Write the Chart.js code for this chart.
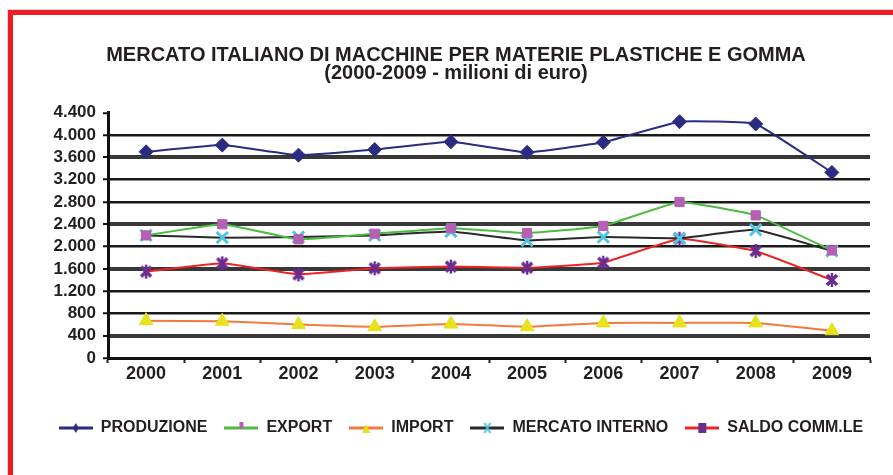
<!DOCTYPE html>
<html>
<head>
<meta charset="utf-8">
<script src="https://cdn.jsdelivr.net/npm/chart.js@4.4.1/dist/chart.umd.min.js"></script>
<style>
  html, body { margin:0; padding:0; background:#fff; }
  #wrap { position:relative; width:893px; height:475px; overflow:hidden; }
  #frame { position:absolute; left:8px; top:10px; width:1000px; height:600px;
           border-left:5px solid #ee1c25; border-top:5px solid #ee1c25;
           box-shadow:-1px -1px 0 #d8d8d8; }
  #chartBox { position:absolute; left:0; top:0; width:893px; height:475px; }
</style>
</head>
<body>
<div id="wrap">
  <div id="frame"></div>
  <div id="chartBox"><canvas id="chart"></canvas></div>
</div>
<script>
// ---- dati (milioni di euro) ----
const anni = ['2000','2001','2002','2003','2004','2005','2006','2007','2008','2009'];
const produzione = [3700, 3820, 3640, 3740, 3880, 3690, 3870, 4240, 4200, 3330];
const exportVal = [2200, 2400, 2130, 2230, 2330, 2240, 2370, 2800, 2560, 1930];
const importVal = [670, 660, 600, 560, 610, 560, 630, 630, 630, 490];
const mercatoInterno = [2200, 2160, 2170, 2200, 2270, 2110, 2170, 2150, 2300, 1920];
const saldoComm = [1550, 1700, 1500, 1610, 1640, 1620, 1710, 2140, 1920, 1400];
const yTickLabels = ['0','400','800','1.200','1.600','2.000','2.400','2.800','3.200','3.600','4.000','4.400'];

const FONT = '"Liberation Sans", Arial, Helvetica, sans-serif';
const TXT = '#231f20';

// marker "stella" stile Excel: X con tratto verticale
function starMarker(color){
    const c = document.createElement('canvas');
    c.width = 16; c.height = 16;
    const g = c.getContext('2d');
    g.strokeStyle = color; g.lineWidth = 3.5;
    g.beginPath(); g.moveTo(3,3); g.lineTo(13,13); g.moveTo(13,3); g.lineTo(3,13); g.stroke();
    g.lineWidth = 2.5;
    g.beginPath(); g.moveTo(8,1); g.lineTo(8,15); g.stroke();
    return c;
}

// icona legenda: linea + piccolo marker
function legendIcon(lineColor, markColor, shape){
    const c = document.createElement('canvas');
    c.width = 34; c.height = 14;
    const g = c.getContext('2d');
    g.strokeStyle = lineColor; g.lineWidth = 3;
    g.beginPath(); g.moveTo(0,7); g.lineTo(34,7); g.stroke();
    g.fillStyle = markColor; g.strokeStyle = markColor;
    const x = 17, y = 7;
    if(shape === 'diamond'){
        g.beginPath(); g.moveTo(x,y-5); g.lineTo(x+3,y); g.lineTo(x,y+5); g.lineTo(x-3,y); g.closePath(); g.fill();
    }else if(shape === 'square'){
        g.fillRect(x-2, y-6, 4, 7);
    }else if(shape === 'triangle'){
        g.beginPath(); g.moveTo(x,y-4); g.lineTo(x+4,y+5); g.lineTo(x-4,y+5); g.closePath(); g.fill();
    }else if(shape === 'x'){
        g.lineWidth = 2;
        g.beginPath(); g.moveTo(x-3,y-5); g.lineTo(x+3,y+5); g.moveTo(x+3,y-5); g.lineTo(x-3,y+5); g.stroke();
    }else{
        g.fillRect(x-4, y-5, 8, 10);
    }
    return c;
}

const serie = [
    {label:'PRODUZIONE', data:produzione, line:'#2b2b82', mark:'#2b2b82', ps:'rectRot', r:7, bw:1, icon:'diamond'},
    {label:'EXPORT', data:exportVal, line:'#4dbb3f', mark:'#b55fb5', ps:'rect', r:6.5, bw:1, icon:'square'},
    {label:'IMPORT', data:importVal, line:'#f47a3c', mark:'#e6e31e', ps:'triangle', r:8, bw:1, icon:'triangle'},
    {label:'MERCATO INTERNO', data:mercatoInterno, line:'#2a2a2a', mark:'#4fc6e2', ps:'crossRot', r:8, bw:3, icon:'x'},
    {label:'SALDO COMM.LE', data:saldoComm, line:'#ee2424', mark:'#6b2c8f', ps:starMarker('#6b2c8f'), r:8, bw:1, icon:'star'}
];

const thick = [400, 1600, 2400, 3600];

// sposta titolo e legenda a destra come nell'originale
const blockShift = {
    id:'blockShift',
    afterLayout(chart){
        if(chart.legend){ chart.legend.left += 26; chart.legend.right += 26; }
        if(chart.titleBlock){ chart.titleBlock.left += 21; chart.titleBlock.right += 21; }
    }
};

new Chart(document.getElementById('chart'), {
    type:'line',
    data:{
        labels: anni,
        datasets: serie.map(s => ({
            label:s.label, data:s.data,
            borderColor:s.line, backgroundColor:s.mark,
            borderWidth:2, tension:.1,
            pointStyle:s.ps, pointRadius:s.r, pointBorderWidth:s.bw,
            pointBackgroundColor:s.mark, pointBorderColor:s.mark
        }))
    },
    plugins:[blockShift],
    options:{
        responsive:true, maintainAspectRatio:false, animation:false,
        layout:{ padding:{ left:0, right:23, top:0, bottom:29 } },
        plugins:{
            title:{
                display:true,
                text:['MERCATO ITALIANO DI MACCHINE PER MATERIE PLASTICHE E GOMMA', '(2000-2009 - milioni di euro)'],
                color:TXT,
                font:{family:FONT, size:20, weight:'bold', lineHeight:0.92},
                padding:{top:46, bottom:30}
            },
            legend:{
                position:'bottom',
                labels:{
                    color:TXT,
                    font:{family:FONT, size:16, weight:'bold'},
                    usePointStyle:true, pointStyleWidth:34, boxHeight:14,
                    padding:17,
                    generateLabels:(chart) => {
                        const items = Chart.defaults.plugins.legend.labels.generateLabels(chart);
                        items.forEach((it, i) => {
                            const s = serie[i];
                            it.pointStyle = legendIcon(s.line, s.mark, s.icon);
                        });
                        return items;
                    }
                }
            },
            tooltip:{enabled:false}
        },
        scales:{
            x:{
                offset:true,
                afterFit:(s) => { s.height = 45; },
                grid:{ drawOnChartArea:false, offset:true, tickLength:5, tickColor:'#222', tickWidth:2 },
                border:{ color:'#111', width:3 },
                ticks:{ color:TXT, padding:0, font:{family:FONT, size:18, weight:'bold'} }
            },
            y:{
                min:0, max:4400,
                afterFit:(s) => { s.width = 108; },
                grid:{
                    color:(c) => c.tick && c.tick.value === 4400 ? 'rgba(0,0,0,0)' : (thick.includes(c.tick && c.tick.value) ? '#383838' : '#1a1a1a'),
                    lineWidth:(c) => thick.includes(c.tick && c.tick.value) ? 4 : 2.5,
                    tickColor:'#111', tickWidth:2, tickLength:5
                },
                border:{ color:'#111', width:3 },
                ticks:{
                    stepSize:400, autoSkip:false, color:TXT, padding:7,
                    font:{family:FONT, size:17, weight:'bold'},
                    callback:(v, i) => yTickLabels[i]
                }
            }
        }
    }
});
</script>
</body>
</html>
